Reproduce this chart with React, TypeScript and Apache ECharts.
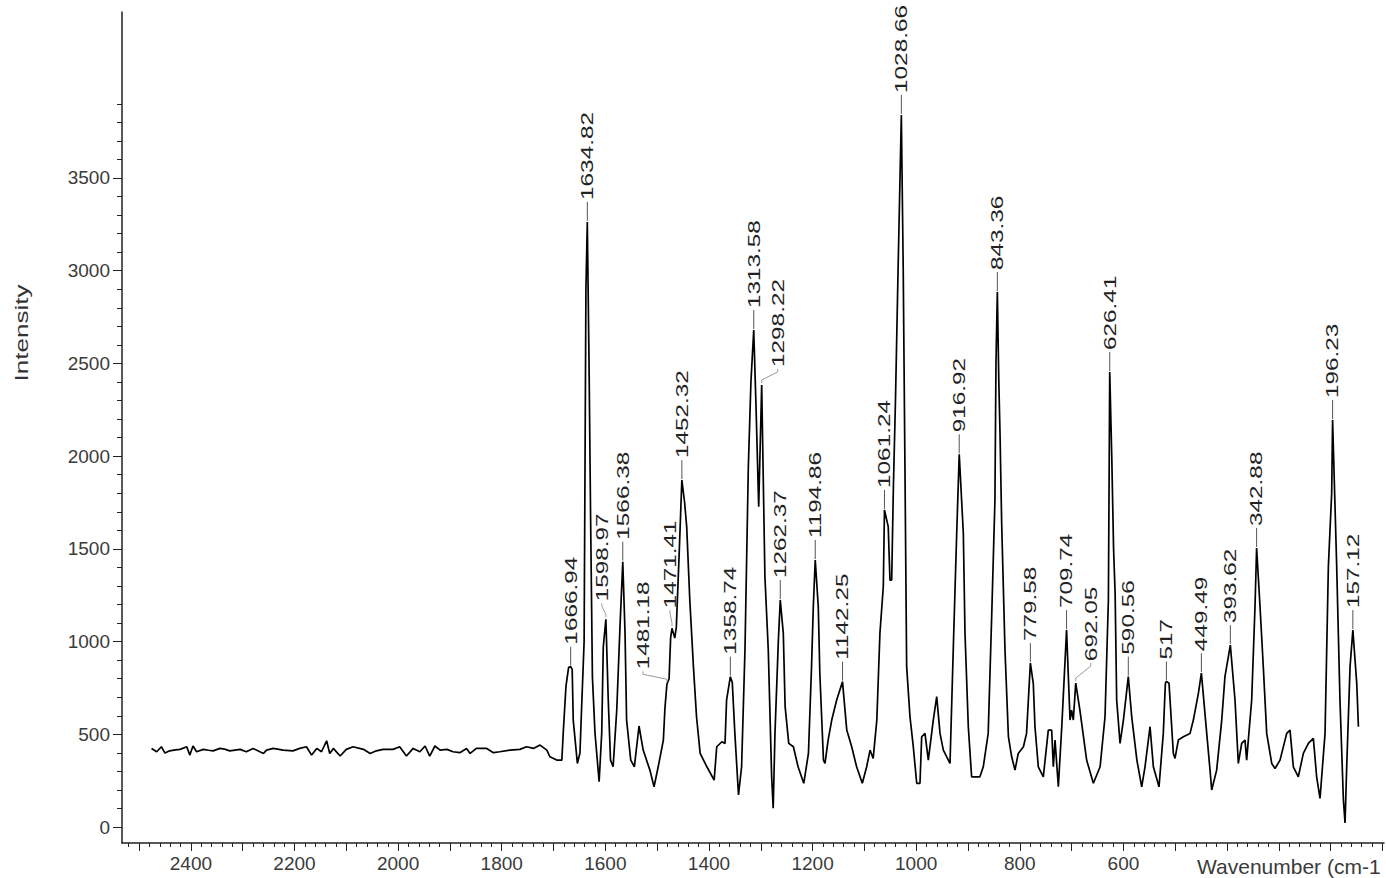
import React, { useEffect, useRef } from "react";
import * as echarts from "echarts";

// ---- data (wavenumber cm-1, intensity) ----
const baselineRegion: [number, number][] = [
  [2476, 424], [2466, 406], [2457, 433], [2450, 399], [2441, 411], [2430, 416], [2421, 419],
  [2408, 433], [2402, 388], [2396, 437], [2389, 406], [2376, 419], [2366, 414], [2357, 411],
  [2344, 424], [2335, 420], [2325, 411], [2305, 419], [2293, 406], [2280, 424], [2260, 397],
  [2254, 415], [2241, 424], [2222, 415], [2203, 411], [2190, 424], [2177, 433], [2167, 388],
  [2157, 424], [2148, 406], [2138, 465], [2132, 397], [2125, 424], [2112, 383], [2100, 419],
  [2087, 433], [2067, 419], [2054, 397], [2042, 411], [2029, 419], [2010, 419], [1997, 433],
  [1984, 383], [1971, 424], [1958, 406], [1948, 437], [1939, 383], [1929, 437], [1919, 415],
  [1906, 419], [1894, 406], [1881, 401], [1868, 424], [1861, 397], [1849, 424], [1829, 424],
  [1816, 401], [1804, 406], [1784, 415], [1765, 419], [1752, 433], [1739, 424], [1726, 442],
  [1713, 415], [1707, 379], [1694, 361],
];

const fingerprintRegion: [number, number][] = [
  [1684, 361], [1681, 523], [1676, 760], [1671, 860], [1664, 850], [1662, 577], [1654, 343],
  [1649, 399], [1646, 631], [1641, 1000], [1637.5, 2900], [1631.5, 2500], [1628.5, 1673],
  [1625, 811], [1620, 507], [1612, 244], [1607, 507], [1604, 972], [1594.4, 685], [1590, 361],
  [1585, 325], [1578, 631], [1572, 1062], [1562, 1045], [1559, 577], [1551, 361], [1544, 325],
  [1535, 545], [1527, 415], [1514, 307], [1506, 217], [1498, 325], [1488, 469], [1485, 640],
  [1477, 800], [1474, 1020], [1466, 1019], [1463, 1078], [1457, 1512], [1447, 1750],
  [1443, 1620], [1437, 1224], [1430, 865], [1424, 595], [1417, 397], [1404, 325], [1390, 253],
  [1385, 433], [1375, 460], [1369, 451], [1366, 685], [1355, 780], [1350, 505], [1343, 173],
  [1337, 325], [1330.5, 955], [1324, 1943], [1319, 2400], [1309, 2250], [1304, 1727],
  [1292, 1350], [1285.5, 955], [1279, 271], [1276, 101], [1272.6, 505], [1266, 1008],
  [1256.5, 1045], [1253, 649], [1246, 451], [1237, 433], [1228, 325], [1217, 236], [1208, 397],
  [1202, 865], [1198.6, 1188], [1189, 1188], [1186, 829], [1179, 361], [1176, 343], [1170, 469],
  [1163, 577], [1153.5, 685], [1134, 523], [1124.5, 433], [1115, 325], [1104, 236],
  [1095.6, 325], [1089, 415], [1083, 370], [1076, 577], [1070, 1045], [1063.5, 1296],
  [1054, 1620], [1050.6, 1332], [1047.3, 1332], [1044, 1835], [1040, 2300], [1035, 3000],
  [1025, 3000], [1021.7, 1943], [1018.4, 865], [1012, 595], [1005.6, 433], [999, 236],
  [992.7, 236], [989.4, 487], [983, 505], [976.6, 361], [967, 577], [960.4, 703], [954, 505],
  [947.6, 415], [934.7, 343], [928.3, 972], [921.8, 1584], [909, 1584], [905.8, 1045],
  [899.4, 541], [893, 271], [877, 271], [870.5, 325], [861, 505], [854.3, 1134], [848, 1763],
  [846, 2500], [840.5, 2400], [838.2, 2123], [835, 1638], [828.6, 955], [822, 487],
  [815.7, 379], [809.3, 307], [803, 397], [793, 433], [787, 505], [774, 775], [770.7, 541],
  [764.3, 325], [754.6, 271], [745, 523], [738.5, 523], [735.3, 325], [732, 469], [725.6, 217],
  [719, 541], [706.3, 811], [703, 577], [700, 631], [696.7, 577], [684, 631], [671, 361],
  [658, 236], [645, 325], [635.5, 595], [629, 1224], [622.5, 2000], [619, 1500], [616, 1260],
  [613, 685], [606.5, 451], [600, 577], [584, 595], [574, 361], [564.7, 217], [558.3, 325],
  [548.6, 541], [542.2, 325], [531.3, 217], [523, 505], [519, 776], [512, 776], [503.6, 397],
  [500.4, 370], [494, 469], [484.3, 487], [471.4, 505], [465, 577], [455.3, 721], [439.2, 505],
  [432.8, 307], [429.6, 200], [420, 307], [410.2, 577], [404, 811], [384.6, 685], [378.2, 343],
  [371.7, 451], [365.3, 469], [362.1, 361], [358.9, 469], [352.4, 685], [346, 1188],
  [336.3, 1188], [330, 865], [323.4, 505], [313.7, 343], [307.3, 316], [297.7, 361],
  [284.8, 505], [278.4, 523], [272, 325], [262.4, 271], [252.7, 397], [243, 451], [233.4, 478],
  [227, 271], [220.5, 154], [210.8, 505], [204.4, 1404], [198, 1800], [188.3, 1404],
  [182, 685], [175.4, 146], [172.2, 22], [169, 325], [162.5, 865], [149.6, 775], [146.4, 541],
];

const peakWavenumbers = [
  1666.94, 1634.82, 1598.97, 1566.38, 1481.18, 1471.41, 1452.32, 1358.74, 1313.58, 1298.22,
  1262.37, 1194.86, 1142.25, 1061.24, 1028.66, 916.92, 843.36, 779.58, 709.74, 692.05, 626.41,
  590.56, 517, 449.49, 393.62, 342.88, 196.23, 157.12,
];
const peakIntensities = [
  865, 3263, 1120, 1431, 770, 1072, 1871, 811, 2680, 2384, 1224, 1440, 784, 1710, 3840, 2010,
  2885, 884, 1062, 776, 2454, 811, 785, 830, 981, 1505, 2195, 1062,
];
const peakLabels = [
  "1666.94", "1634.82", "1598.97", "1566.38", "1481.18", "1471.41", "1452.32", "1358.74",
  "1313.58", "1298.22", "1262.37", "1194.86", "1142.25", "1061.24", "1028.66", "916.92",
  "843.36", "779.58", "709.74", "692.05", "626.41", "590.56", "517", "449.49", "393.62",
  "342.88", "196.23", "157.12",
];

const xTickLabels = [2400, 2200, 2000, 1800, 1600, 1400, 1200, 1000, 800, 600];
const yTickLabels = [0, 500, 1000, 1500, 2000, 2500, 3000, 3500];
const xAxisName = "Wavenumber (cm-1";
const yAxisName = "Intensity";

// ---- layout / style ----
const FONT = "'Liberation Sans', Arial, sans-serif";
const X_MIN = 97;
const X_MAX = 2533;
const Y_MIN = -86;
const Y_MAX = 4395;
const xMinorTicks = Array.from({ length: 122 }, (_, i) => 100 + i * 20).filter((v) => v <= 2520);
const xMajorTicks = Array.from({ length: 25 }, (_, i) => 100 + i * 100).filter((v) => v <= 2500);
const yMinorTicks = Array.from({ length: 40 }, (_, i) => i * 100);

const LABEL_GAP = 22;
const labelLayout: Record<string, { dx: number; dy: number; bent?: boolean }> = {
  "1598.97": { dx: -4, dy: 18, bent: true },
  "1481.18": { dx: -24, dy: 15, bent: true },
  "1471.41": { dx: -2, dy: 20, bent: true },
  "1298.22": { dx: 16, dy: 18, bent: true },
  "692.05": { dx: 15, dy: 22, bent: true },
};

export default function App() {
  const ref = useRef<HTMLDivElement>(null);

  useEffect(() => {
    if (!ref.current) return;
    const chart = echarts.init(ref.current, undefined, { renderer: "svg" });

    const spectrum = [
      ...baselineRegion,
      ...fingerprintRegion,
      ...peakWavenumbers.map((w, i) => [w, peakIntensities[i]] as [number, number]),
    ].sort((a, b) => b[0] - a[0]);

    const peakData = peakWavenumbers.map((w, i) => [w, peakIntensities[i], i]);

    const axisColor = "#222";
    const labelStyle = {
      color: "#3a3a3a",
      fontSize: 19,
      fontFamily: FONT,
      formatter: (v: number) => String(v),
    };

    chart.setOption({
      animation: false,
      backgroundColor: "#ffffff",
      grid: { left: 122, right: 2, top: 12, bottom: 35, containLabel: false },
      xAxis: [
        {
          type: "value",
          min: X_MIN,
          max: X_MAX,
          inverse: true,
          position: "bottom",
          axisLine: { show: true, onZero: false, lineStyle: { color: axisColor, width: 1.5 } },
          axisTick: { show: true, length: 4, customValues: xMinorTicks, lineStyle: { color: axisColor } },
          axisLabel: { show: true, margin: 11, customValues: xTickLabels, ...labelStyle },
          splitLine: { show: false },
        },
        {
          type: "value",
          min: X_MIN,
          max: X_MAX,
          inverse: true,
          position: "bottom",
          axisLine: { show: false, onZero: false },
          axisTick: { show: true, length: 8, customValues: xMajorTicks, lineStyle: { color: axisColor } },
          axisLabel: { show: false },
          splitLine: { show: false },
        },
      ],
      yAxis: [
        {
          type: "value",
          min: Y_MIN,
          max: Y_MAX,
          position: "left",
          axisLine: { show: true, onZero: false, lineStyle: { color: axisColor, width: 1.5 } },
          axisTick: { show: true, length: 5, customValues: yMinorTicks, lineStyle: { color: axisColor } },
          axisLabel: { show: true, margin: 12, customValues: yTickLabels, ...labelStyle },
          splitLine: { show: false },
        },
        {
          type: "value",
          min: Y_MIN,
          max: Y_MAX,
          position: "left",
          axisLine: { show: false, onZero: false },
          axisTick: { show: true, length: 9, customValues: yTickLabels, lineStyle: { color: axisColor } },
          axisLabel: { show: false },
          splitLine: { show: false },
        },
      ],
      graphic: [
        {
          type: "text",
          x: 22,
          y: 333,
          rotation: Math.PI / 2,
          scaleX: 1.45,
          style: {
            text: yAxisName,
            fontSize: 18,
            fontFamily: FONT,
            fill: "#333",
            align: "center",
            verticalAlign: "middle",
          },
        },
        {
          type: "text",
          x: 1197,
          y: 866,
          style: {
            text: xAxisName,
            fontSize: 21,
            fontFamily: FONT,
            fill: "#3a3a3a",
            align: "left",
            verticalAlign: "middle",
          },
        },
      ],
      series: [
        {
          type: "line",
          data: spectrum,
          xAxisIndex: 0,
          yAxisIndex: 0,
          showSymbol: false,
          symbol: "none",
          lineStyle: { color: "#000", width: 1.7 },
          silent: true,
          z: 3,
        },
        {
          type: "custom",
          data: peakData,
          xAxisIndex: 0,
          yAxisIndex: 0,
          clip: false,
          silent: true,
          z: 4,
          encode: { x: 0, y: 1 },
          renderItem: (_params: any, api: any) => {
            const i = api.value(2);
            const p = api.coord([api.value(0), api.value(1)]);
            const text = peakLabels[i];
            const lay = labelLayout[text] || { dx: 0, dy: LABEL_GAP };
            const tx = p[0] + lay.dx;
            const ty = p[1] - lay.dy;
            const pts = lay.bent
              ? [
                  [p[0], p[1] - 2],
                  [p[0], p[1] - 5],
                  [tx, ty + 5],
                  [tx, ty + 2],
                ]
              : [
                  [p[0], p[1] - 1],
                  [p[0], ty + 2],
                ];
            return {
              type: "group",
              children: [
                {
                  type: "polyline",
                  shape: { points: pts },
                  style: { stroke: lay.bent ? "#9a9a9a" : "#555", lineWidth: 1, fill: "none" },
                },
                {
                  type: "text",
                  x: tx,
                  y: ty,
                  rotation: Math.PI / 2,
                  scaleX: 1.52,
                  style: {
                    text,
                    fontSize: 16,
                    fontFamily: FONT,
                    fill: "#222",
                    align: "left",
                    verticalAlign: "middle",
                  },
                },
              ],
            };
          },
        },
      ],
    });

    return () => chart.dispose();
  }, []);

  return (
    <div
      ref={ref}
      style={{ position: "absolute", left: 0, top: 0, width: 1386, height: 878, background: "#fff" }}
    />
  );
}
